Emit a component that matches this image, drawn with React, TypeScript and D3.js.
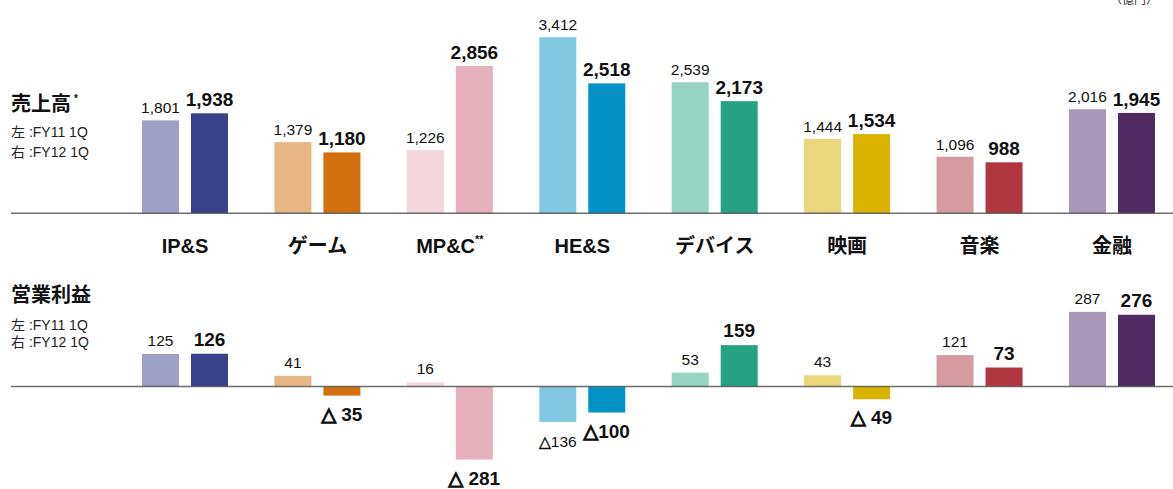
import React from "react";
import * as d3 from "d3";

const categories = ["IP&S", "ゲーム", "MP&C", "HE&S", "デバイス", "映画", "音楽", "金融"];
const categoryNotes = ["", "", "**", "", "", "", "", ""];
const periods = ["FY11 1Q", "FY12 1Q"];

const salesPrev = [1801, 1379, 1226, 3412, 2539, 1444, 1096, 2016];
const salesCurr = [1938, 1180, 2856, 2518, 2173, 1534, 988, 1945];

const profitPrev = [125, 41, 16, -136, 53, 43, 121, 287];
const profitCurr = [126, -35, -281, -100, 159, -49, 73, 276];
const profitPrevLabels = ["125", "41", "16", "△136", "53", "43", "121", "287"];
const profitCurrLabels = ["126", "△ 35", "△ 281", "△100", "159", "△ 49", "73", "276"];

const lightColors = ["#9c9fc6", "#e8b584", "#f2d7dd", "#82c8e2", "#95d3c3", "#e9d77c", "#d69ba1", "#a897b7"];
const darkColors = ["#39418a", "#d2700d", "#e6b1bc", "#0393c9", "#24a283", "#d9b300", "#b03640", "#4f2a63"];

const W = 1173;
const H = 489;
const FONT = "'Liberation Sans', Arial, 'DejaVu Sans', 'Noto Sans CJK JP', sans-serif";

// the minus marker (△) is drawn a bit heavier, like the source
const renderLabel = (label: string, bold: boolean) => {
  if (!label.startsWith("△")) return label;
  return (
    <>
      <tspan stroke="#111" strokeWidth={bold ? 1.3 : 0.5}>△</tspan>
      {label.slice(1)}
    </>
  );
};

const App: React.FC = () => {
  const x = d3.scaleBand<string>().domain(categories).range([118.8, 1178.2]).padding(0);
  const inner = d3
    .scaleBand<string>()
    .domain(periods)
    .range([23.2, 109.2])
    .paddingInner(12 / 49)
    .paddingOuter(0);
  const bw = inner.bandwidth();

  const ySales = d3.scaleLinear().domain([0, 3500]).range([213.3, 32.7]);
  const yProfit = d3.scaleLinear().domain([-300, 300]).range([464.5, 308.5]);

  const barX = (i: number, p: number) => (x(categories[i]) || 0) + (inner(periods[p]) || 0);

  const salesBars = (vals: number[], p: number) =>
    vals.map((v, i) => {
      const bx = barX(i, p);
      const top = ySales(v);
      return (
        <g key={`s${p}-${i}`}>
          <rect
            x={bx}
            y={top}
            width={bw}
            height={ySales(0) - top}
            fill={p === 0 ? lightColors[i] : darkColors[i]}
          />
          <text
            x={bx + bw / 2}
            y={top - 7}
            textAnchor="middle"
            fontSize={p === 0 ? 15.5 : 19}
            fontWeight={p === 0 ? "normal" : "bold"}
            fill="#111"
          >
            {d3.format(",")(v)}
          </text>
        </g>
      );
    });

  const profitBars = (vals: number[], labels: string[], p: number) =>
    vals.map((v, i) => {
      const bx = barX(i, p);
      const y0 = yProfit(0);
      const yv = yProfit(v);
      const top = Math.min(y0, yv);
      const h = Math.abs(y0 - yv);
      const ly = v >= 0 ? yv - 8 : yv + 25;
      return (
        <g key={`p${p}-${i}`}>
          <rect x={bx} y={top} width={bw} height={h} fill={p === 0 ? lightColors[i] : darkColors[i]} />
          <text
            x={bx + bw / 2}
            y={ly}
            textAnchor="middle"
            fontSize={p === 0 ? 15.5 : 19}
            fontWeight={p === 0 ? "normal" : "bold"}
            fill="#111"
          >
            {renderLabel(labels[i], p === 1)}
          </text>
        </g>
      );
    });

  return (
    <svg
      width={W}
      height={H}
      style={{ position: "absolute", left: 0, top: 0, background: "#fff" }}
      fontFamily={FONT}
    >
      <text x={1110} y={4} fontSize={12} fill="#333">
        （億円）
      </text>

      {/* sales */}
      {salesBars(salesPrev, 0)}
      {salesBars(salesCurr, 1)}
      <line x1={11} x2={W} y1={ySales(0)} y2={ySales(0)} stroke="#555" strokeWidth={1.6} strokeOpacity={0.85} />

      <text x={11} y={111} fontSize={20} fontWeight="bold" fill="#111">
        売上高<tspan fontSize={10} dx={3} dy={-9}>*</tspan>
      </text>
      <text x={11} y={137} fontSize={14} fill="#222">左 :{periods[0]}</text>
      <text x={11} y={157} fontSize={14} fill="#222">右 :{periods[1]}</text>

      {/* category labels */}
      {categories.map((c, i) => (
        <text
          key={c}
          x={(x(c) || 0) + x.bandwidth() / 2}
          y={253}
          textAnchor="middle"
          fontSize={20}
          fontWeight="bold"
          fill="#111"
        >
          {c}
          {categoryNotes[i] && (
            <tspan fontSize={11} dy={-10}>
              {categoryNotes[i]}
            </tspan>
          )}
        </text>
      ))}

      {/* operating income */}
      {profitBars(profitPrev, profitPrevLabels, 0)}
      {profitBars(profitCurr, profitCurrLabels, 1)}
      <line x1={11} x2={W} y1={yProfit(0)} y2={yProfit(0)} stroke="#555" strokeWidth={1.6} strokeOpacity={0.85} />

      <text x={11} y={302} fontSize={20} fontWeight="bold" fill="#111">
        営業利益
      </text>
      <text x={11} y={330} fontSize={14} fill="#222">左 :{periods[0]}</text>
      <text x={11} y={347} fontSize={14} fill="#222">右 :{periods[1]}</text>
    </svg>
  );
};

export default App;
